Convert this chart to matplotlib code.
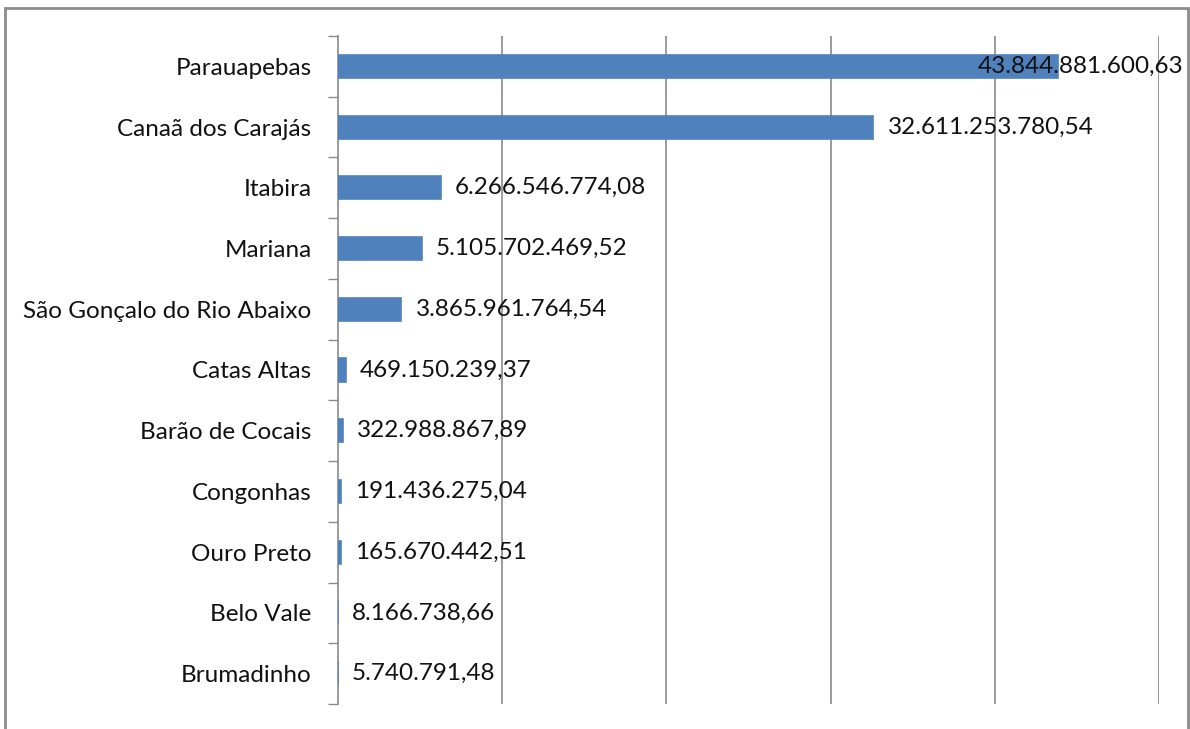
import matplotlib
matplotlib.use("Agg")
import matplotlib.pyplot as plt
from matplotlib.patches import Rectangle

categories = ["Parauapebas", "Canaã dos Carajás", "Itabira", "Mariana",
              "São Gonçalo do Rio Abaixo", "Catas Altas", "Barão de Cocais",
              "Congonhas", "Ouro Preto", "Belo Vale", "Brumadinho"]
values = [43844881600.63, 32611253780.54, 6266546774.08, 5105702469.52,
          3865961764.54, 469150239.37, 322988867.89, 191436275.04,
          165670442.51, 8166738.66, 5740791.48]
value_labels = ["43.844.881.600,63", "32.611.253.780,54", "6.266.546.774,08",
                "5.105.702.469,52", "3.865.961.764,54", "469.150.239,37",
                "322.988.867,89", "191.436.275,04", "165.670.442,51",
                "8.166.738,66", "5.740.791,48"]
x_max = 50e9
x_step = 10e9

plt.rcParams['font.family'] = ['Lato', 'DejaVu Sans']

fig = plt.figure(figsize=(11.9, 7.29), dpi=100)
fig.patches.append(Rectangle((5/1190, -0.05), 1183/1190, 1.05 - 8/729,
                             transform=fig.transFigure, fill=False,
                             edgecolor="#8c8c8c", linewidth=2, zorder=0))
ax = fig.add_axes([338/1190, 1 - 704/729, (1159 - 338)/1190, (704 - 36)/729])

n = len(categories)
ypos = list(range(n))
ax.barh(ypos, values, height=0.38, color="#4F81BD", edgecolor="#4F81BD",
        linewidth=1.2, zorder=3)
ax.set_ylim(n - 0.5, -0.5)
ax.set_xlim(0, x_max)

ax.set_xticks([x_step * i for i in range(1, int(x_max / x_step) + 1)])
ax.xaxis.grid(True, color="#8a8a8a", linewidth=1.2, zorder=1)
ax.tick_params(axis='x', length=0, labelbottom=False)

# category ticks at boundaries
ax.set_yticks([i - 0.5 for i in range(n + 1)], minor=False)
ax.set_yticklabels([])
ax.set_yticks(ypos, minor=True)
ax.set_yticklabels(categories, minor=True, fontsize=17.5, color="#111111")
ax.tick_params(axis='y', which='major', length=7, width=1, color="#8a8a8a")
ax.tick_params(axis='y', which='minor', length=0, pad=19)

for s in ["top", "right", "bottom"]:
    ax.spines[s].set_visible(False)
ax.spines["left"].set_color("#8a8a8a")
ax.spines["left"].set_linewidth(1.2)

for i, (v, lab) in enumerate(zip(values, value_labels)):
    if i == 0:
        ax.annotate(lab, xy=(1.0, i), xycoords=("axes fraction", "data"),
                    xytext=(24, 0), textcoords="offset pixels",
                    ha="right", va="center", fontsize=17.5, color="#111111", zorder=4)
    else:
        ax.annotate(lab, xy=(v, i), xytext=(14, 0), textcoords="offset pixels",
                    ha="left", va="center", fontsize=17.5, color="#111111", zorder=4)

fig.savefig("out.png", dpi=100)
